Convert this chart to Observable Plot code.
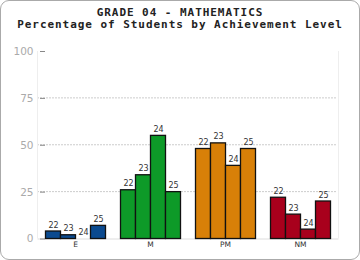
<!DOCTYPE html>
<html><head><meta charset="utf-8">
<script src="https://cdn.jsdelivr.net/npm/d3@7"></script>
<script src="https://cdn.jsdelivr.net/npm/@observablehq/plot@0.6"></script>
<style>
html,body{margin:0;padding:0;background:#fff;}
#wrap{position:relative;width:360px;height:260px;overflow:hidden;}
#frame{position:absolute;left:0;top:0;width:360px;height:260px;box-sizing:border-box;border:1.5px solid #aaa;border-radius:9px;}
#title{position:absolute;left:0;top:7px;width:360px;text-align:center;font-family:"DejaVu Sans Mono",monospace;font-weight:bold;font-size:11px;letter-spacing:0.95px;line-height:12px;color:#222;}
#chart{position:absolute;left:0;top:32px;}
#chart g[aria-label^="y-axis"] text{fill:#aaa;font-size:10.5px;font-family:"DejaVu Sans",sans-serif;}
#chart g[aria-label^="y-axis"] line,#chart g[aria-label^="y-axis"] path{stroke:#888;}
#chart g[aria-label^="fx-axis"] text{fill:#333;font-size:7.5px;font-family:"DejaVu Sans",sans-serif;}
</style>
</head><body>
<div id="wrap">
<div id="frame"></div>
<div id="title">GRADE 04 - MATHEMATICS<br>Percentage of Students by Achievement Level</div>
<div id="chart"></div>
</div>
<script>
const levels = ["E", "M", "PM", "NM"];
const grades = ["22", "23", "24", "25"];
const valuesE = [4, 2, 0, 7];
const valuesM = [26, 34, 55, 25];
const valuesPM = [48, 51, 39, 48];
const valuesNM = [22, 13, 5, 20];
const colors = ["#0b4a8f", "#0d9a28", "#d88008", "#a8001c"];
const yTicks = [0, 25, 50, 75, 100];

const series = [valuesE, valuesM, valuesPM, valuesNM];
const data = levels.flatMap((lv, i) => grades.map((g, j) => ({level: lv, grade: g, value: series[i][j]})));

const plot = Plot.plot({
  width: 360, height: 228,
  marginTop: 19, marginBottom: 21.5, marginLeft: 37.5, marginRight: 22.5,
  style: {fontFamily: "DejaVu Sans, sans-serif", background: "transparent"},
  fx: {domain: levels, paddingInner: 0.2, paddingOuter: 0.1, label: null, axis: "bottom", tickSize: 0, tickPadding: 3},
  x: {domain: grades, padding: 0, axis: null},
  y: {domain: [0, 100], ticks: yTicks, tickSize: 5, tickPadding: 7, label: null},
  color: {domain: levels, range: colors},
  marks: [
    Plot.barY(data, {fx: "level", x: "grade", y: "value", fill: "level", stroke: "#111", strokeWidth: 1.3}),
    Plot.text(data, {fx: "level", x: "grade", y: "value", text: "grade", dy: -4, lineAnchor: "bottom", fontSize: 8, fill: "#333"})
  ]
});
document.getElementById("chart").appendChild(plot);

// background guides drawn with the plot's own scales
const ys = plot.scale("y");
const fxs = plot.scale("fx");
const x0 = fxs.range[0], x1 = fxs.range[1];
const svg = d3.select(plot);
const g = svg.insert("g", ":first-child");
g.selectAll("line.grid").data(yTicks.filter(t => t > 0 && t < 100)).join("line")
  .attr("x1", x0).attr("x2", x1)
  .attr("y1", d => ys.apply(d)).attr("y2", d => ys.apply(d))
  .attr("stroke", "#999").attr("stroke-dasharray", "1,2");
g.append("line").attr("x1", x0).attr("x2", x1 + 1)
  .attr("y1", ys.apply(0) + 0.5).attr("y2", ys.apply(0) + 0.5).attr("stroke", "#ddd");
[x0, x1 + 1].forEach(x => g.append("line").attr("x1", x).attr("x2", x)
  .attr("y1", ys.apply(100)).attr("y2", ys.apply(0)).attr("stroke", "#eee"));
</script>
</body></html>
